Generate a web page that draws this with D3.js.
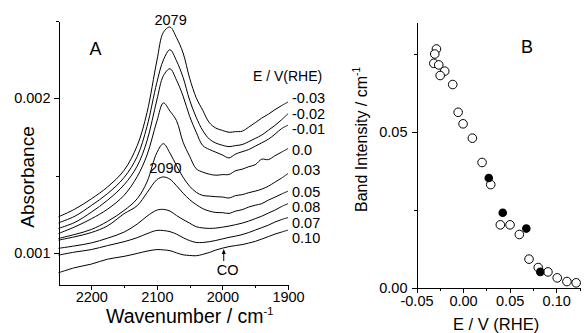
<!DOCTYPE html>
<html>
<head>
<meta charset="utf-8">
<script src="https://cdn.jsdelivr.net/npm/d3@7"></script>
<style>
  body { margin: 0; background: #fff; }
  text { font-family: "Liberation Sans", Arial, sans-serif; fill: #000; }
  .axis path, .axis line { stroke: #000; stroke-width: 1; shape-rendering: crispEdges; }
  .axis text { font-size: 14.5px; }
</style>
</head>
<body>
<script>
// IR spectra (panel A) and band intensity vs potential (panel B)

// Panel A data: wavenumber grid and absorbance (in units of 1e-3) per potential
const wavenumbers = [2250, 2225, 2200, 2175, 2150, 2130, 2115, 2100, 2090, 2080, 2070, 2060, 2050, 2040,
  2030, 2020, 2010, 2000, 1990, 1980, 1970, 1960, 1950, 1940, 1930, 1920, 1910, 1900];
const potentialLabels = ['-0.03', '-0.02', '-0.01', '0.0', '0.03', '0.05', '0.08', '0.07', '0.10'];
const specM003 = [1.233, 1.283, 1.349, 1.427, 1.534, 1.693, 1.908, 2.242, 2.427, 2.461, 2.392, 2.293, 2.130, 2.004,
  1.922, 1.842, 1.807, 1.792, 1.780, 1.784, 1.787, 1.813, 1.842, 1.872, 1.897, 1.926, 1.952, 1.976];
const specM002 = [1.194, 1.237, 1.306, 1.384, 1.487, 1.623, 1.818, 2.102, 2.248, 2.314, 2.242, 2.135, 1.988, 1.877,
  1.791, 1.736, 1.710, 1.696, 1.687, 1.694, 1.700, 1.719, 1.740, 1.762, 1.793, 1.824, 1.860, 1.900];
const specM001 = [1.158, 1.197, 1.263, 1.341, 1.440, 1.561, 1.725, 1.989, 2.146, 2.191, 2.117, 2.014, 1.883, 1.781,
  1.694, 1.669, 1.651, 1.633, 1.614, 1.639, 1.654, 1.668, 1.690, 1.712, 1.735, 1.767, 1.803, 1.826];
const spec000 = [1.125, 1.168, 1.220, 1.283, 1.372, 1.493, 1.633, 1.851, 1.970, 1.917, 1.855, 1.716, 1.625, 1.544,
  1.522, 1.509, 1.502, 1.506, 1.507, 1.531, 1.541, 1.557, 1.570, 1.606, 1.603, 1.628, 1.651, 1.675];
const spec003 = [1.093, 1.119, 1.151, 1.204, 1.274, 1.350, 1.459, 1.648, 1.706, 1.645, 1.564, 1.489, 1.431, 1.392,
  1.371, 1.367, 1.363, 1.361, 1.355, 1.370, 1.376, 1.389, 1.399, 1.412, 1.431, 1.457, 1.483, 1.513];
const spec005 = [1.082, 1.104, 1.131, 1.175, 1.253, 1.305, 1.389, 1.473, 1.491, 1.476, 1.434, 1.386, 1.344, 1.312,
  1.286, 1.270, 1.261, 1.260, 1.255, 1.270, 1.279, 1.296, 1.308, 1.318, 1.341, 1.360, 1.380, 1.399];
const spec008 = [1.029, 1.045, 1.064, 1.095, 1.134, 1.186, 1.237, 1.276, 1.281, 1.270, 1.241, 1.215, 1.192, 1.169,
  1.161, 1.158, 1.160, 1.166, 1.173, 1.182, 1.192, 1.205, 1.221, 1.237, 1.257, 1.276, 1.299, 1.318];
const spec007 = [0.985, 1.005, 1.021, 1.047, 1.072, 1.098, 1.124, 1.145, 1.144, 1.137, 1.121, 1.098, 1.079, 1.067,
  1.067, 1.072, 1.080, 1.090, 1.100, 1.108, 1.118, 1.131, 1.147, 1.163, 1.179, 1.199, 1.215, 1.228];
const spec010 = [0.871, 0.904, 0.927, 0.959, 0.977, 0.996, 1.011, 1.021, 1.019, 1.014, 1.000, 0.987, 0.983, 0.981,
  0.990, 1.002, 1.018, 1.030, 1.040, 1.047, 1.053, 1.063, 1.074, 1.089, 1.105, 1.121, 1.134, 1.147];
const spectra = [specM003, specM002, specM001, spec000, spec003, spec005, spec008, spec007, spec010];
// vertical position of each potential label, in absorbance (1e-3)
const labelLevels = [2.000, 1.898, 1.799, 1.663, 1.537, 1.396, 1.297, 1.195, 1.097];

// Panel B data: band intensity vs potential
const openE = [-0.0286, -0.0304, -0.0314, -0.0261, -0.0197, -0.0246, -0.0111, -0.0053, 0.000, 0.010, 0.0204,
  0.0297, 0.040, 0.0504, 0.0604, 0.0708, 0.0807, 0.0911, 0.1011, 0.1115, 0.1214];
const openI = [0.0765, 0.0749, 0.0719, 0.0714, 0.0694, 0.0680, 0.0651, 0.0562, 0.0525, 0.0479, 0.0401,
  0.0330, 0.0201, 0.0201, 0.0170, 0.0091, 0.0064, 0.0050, 0.0031, 0.0019, 0.0015];
const filledE = [0.0276, 0.0426, 0.0679, 0.0829];
const filledI = [0.0351, 0.0240, 0.0189, 0.0050];

const svg = d3.select('body').append('svg')
  .attr('width', 584)
  .attr('height', 333);

// ---------- Panel A ----------
const xA = d3.scaleLinear().domain([2250, 1900]).range([58.5, 288]);
const yA = d3.scaleLinear().domain([0.795, 2.5]).range([284.5, 21]);

svg.append('g')
  .attr('class', 'axis')
  .attr('transform', 'translate(0,284.5)')
  .call(d3.axisBottom(xA).tickValues([2200, 2100, 2000, 1900]).tickSize(5).tickSizeOuter(0).tickPadding(2)
    .tickFormat(d3.format('d')));
svg.append('g')
  .attr('class', 'axis')
  .attr('transform', 'translate(0,284.5)')
  .call(d3.axisBottom(xA).tickValues([2150, 2050, 1950]).tickSize(3).tickSizeOuter(0).tickFormat(''));

svg.append('g')
  .attr('class', 'axis')
  .attr('transform', 'translate(58.5,0)')
  .call(d3.axisLeft(yA).tickValues([1, 2]).tickSize(5).tickSizeOuter(0).tickPadding(3)
    .tickFormat(d => (d / 1000).toFixed(3)));
svg.append('g')
  .attr('class', 'axis')
  .attr('transform', 'translate(58.5,0)')
  .call(d3.axisLeft(yA).tickValues([1.5, 2.5]).tickSize(3).tickSizeOuter(0).tickFormat(''));

const lineA = d3.line()
  .x((d, i) => xA(wavenumbers[i]))
  .y(d => yA(d))
  .curve(d3.curveCatmullRom.alpha(0.5));

svg.append('g')
  .selectAll('path')
  .data(spectra)
  .join('path')
  .attr('d', lineA)
  .attr('fill', 'none')
  .attr('stroke', '#000')
  .attr('stroke-width', 1);

svg.append('g')
  .selectAll('text')
  .data(potentialLabels)
  .join('text')
  .attr('x', 292)
  .attr('y', (d, i) => yA(labelLevels[i]) + 5)
  .style('font-size', '14.5px')
  .text(d => d);

svg.append('text')
  .attr('x', 253)
  .attr('y', 81)
  .style('font-size', '14px')
  .text('E / V(RHE)');

svg.append('text')
  .attr('x', xA(2079))
  .attr('y', 24.5)
  .attr('text-anchor', 'middle')
  .style('font-size', '14.5px')
  .text('2079');

svg.append('text')
  .attr('x', xA(2090) + 2)
  .attr('y', 173)
  .attr('text-anchor', 'middle')
  .style('font-size', '14.5px')
  .text('2090');

// CO arrow
svg.append('line')
  .attr('x1', xA(1998)).attr('x2', xA(1998))
  .attr('y1', 261).attr('y2', 251)
  .attr('stroke', '#000').attr('stroke-width', 1);
svg.append('path')
  .attr('d', `M${xA(1998) - 2},${254} L${xA(1998)},${249} L${xA(1998) + 2},${254} Z`)
  .attr('fill', '#000');
svg.append('text')
  .attr('x', xA(1998) + 4)
  .attr('y', 275)
  .attr('text-anchor', 'middle')
  .style('font-size', '14.5px')
  .text('CO');

svg.append('text')
  .attr('x', 95.5)
  .attr('y', 54.5)
  .attr('text-anchor', 'middle')
  .style('font-size', '18px')
  .text('A');

svg.append('text')
  .attr('transform', 'translate(34,177) rotate(-90)')
  .attr('text-anchor', 'middle')
  .style('font-size', '19px')
  .text('Absorbance');

const wnLabel = svg.append('text')
  .attr('x', 106)
  .attr('y', 322.5)
  .style('font-size', '19.5px');
wnLabel.append('tspan').text('Wavenumber / cm');
wnLabel.append('tspan').attr('dy', -8).style('font-size', '11px').text('-1');

// ---------- Panel B ----------
const xB = d3.scaleLinear().domain([-0.05, 0.125]).range([416.5, 579.5]);
const yB = d3.scaleLinear().domain([0, 0.085]).range([287.5, 22.5]);

svg.append('g')
  .attr('class', 'axis')
  .attr('transform', 'translate(0,287.5)')
  .call(d3.axisBottom(xB).tickValues([-0.05, 0, 0.05, 0.10]).tickSize(5).tickSizeOuter(0).tickPadding(3)
    .tickFormat(d => d.toFixed(2)));
svg.append('g')
  .attr('class', 'axis')
  .attr('transform', 'translate(0,287.5)')
  .call(d3.axisBottom(xB).tickValues([-0.025, 0.025, 0.075, 0.125]).tickSize(3).tickSizeOuter(0).tickFormat(''));

svg.append('g')
  .attr('class', 'axis')
  .attr('transform', 'translate(416.5,0)')
  .call(d3.axisLeft(yB).tickValues([0, 0.05]).tickSize(5).tickSizeOuter(0).tickPadding(4)
    .tickFormat(d => d.toFixed(2)));
svg.append('g')
  .attr('class', 'axis')
  .attr('transform', 'translate(416.5,0)')
  .call(d3.axisLeft(yB).tickValues([0.025, 0.075]).tickSize(3).tickSizeOuter(0).tickFormat(''));

svg.append('g')
  .selectAll('circle')
  .data(openE)
  .join('circle')
  .attr('cx', d => xB(d))
  .attr('cy', (d, i) => yB(openI[i]))
  .attr('r', 4.3)
  .attr('fill', '#fff')
  .attr('stroke', '#000')
  .attr('stroke-width', 1);

svg.append('g')
  .selectAll('circle')
  .data(filledE)
  .join('circle')
  .attr('cx', d => xB(d))
  .attr('cy', (d, i) => yB(filledI[i]))
  .attr('r', 4.3)
  .attr('fill', '#000');

svg.append('text')
  .attr('x', 527)
  .attr('y', 53)
  .attr('text-anchor', 'middle')
  .style('font-size', '18px')
  .text('B');

const biLabel = svg.append('text')
  .attr('transform', 'translate(366.5,212) rotate(-90)')
  .style('font-size', '16px');
biLabel.append('tspan').text('Band Intensity / cm');
biLabel.append('tspan').attr('dy', -7).style('font-size', '10px').text('-1');

svg.append('text')
  .attr('x', 453)
  .attr('y', 329.5)
  .style('font-size', '16.5px')
  .text('E / V (RHE)');
</script>
</body>
</html>
